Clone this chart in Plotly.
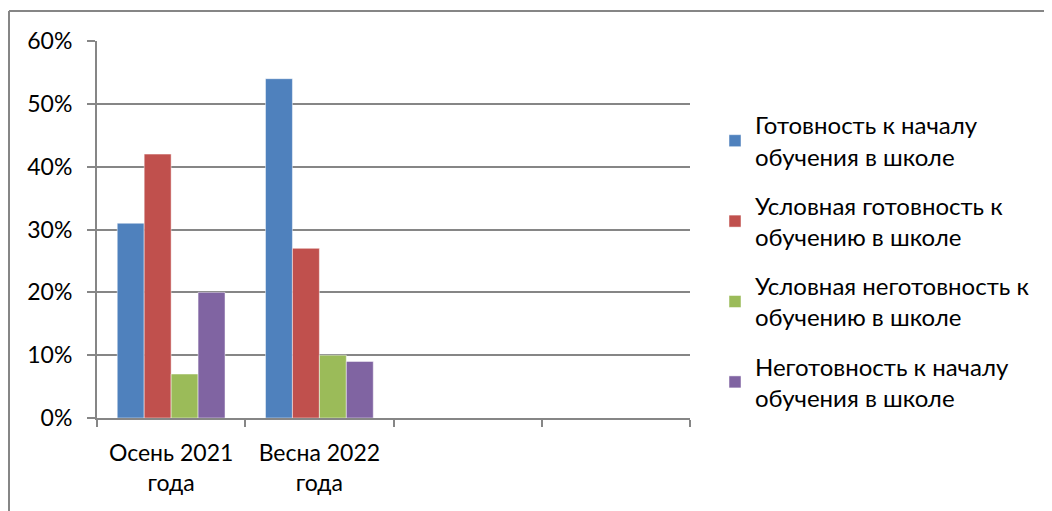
import plotly.graph_objects as go

categories = ["Осень 2021<br>года", "Весна 2022<br>года", " ", "  "]
series_names = [
    "Готовность к началу<br>обучения в школе",
    "Условная готовность к<br>обучению в школе",
    "Условная неготовность к<br>обучению в школе",
    "Неготовность к началу<br>обучения в школе",
]
values_ready = [0.31, 0.54, None, None]
values_cond_ready = [0.42, 0.27, None, None]
values_cond_unready = [0.07, 0.10, None, None]
values_unready = [0.20, 0.09, None, None]
colors = ["#4F81BD", "#C0504D", "#9BBB59", "#8064A2"]
y_ticks = [0, 0.1, 0.2, 0.3, 0.4, 0.5, 0.6]

OFF = 8  # page body margin
W, H = 1052 - OFF, 511 - OFF
L, R, T, B = 97 - OFF, 690 - OFF, 41 - OFF, 418 - OFF

fig = go.Figure()
for i, (name, vals) in enumerate(zip(series_names,
                                     [values_ready, values_cond_ready, values_cond_unready, values_unready])):
    fig.add_trace(go.Bar(
        x=categories, y=vals, name=name, legendgroup=f"g{i}",
        marker=dict(color=colors[i], line=dict(color="rgba(255,255,255,0.6)", width=0.8)),
    ))

pw, ph = R - L, B - T
fig.update_layout(
    width=W, height=H,
    margin=dict(l=L, r=W - R, t=T, b=H - B, pad=0),
    paper_bgcolor="white", plot_bgcolor="white",
    barmode="group", bargap=0.273, bargroupgap=0,
    font=dict(family="Lato, Carlito, sans-serif", size=22, color="#000000"),
    showlegend=True,
    legend=dict(x=(715 - OFF - L) / pw, y=(B - (103 - OFF)) / ph, xanchor="left", yanchor="top",
                traceorder="grouped", tracegroupgap=15,
                font=dict(size=24), itemwidth=30, bgcolor="rgba(0,0,0,0)"),
    xaxis=dict(type="category", categoryorder="array", categoryarray=categories,
               range=[-0.5, 3.5], showline=True, linecolor="#868686", linewidth=2,
               ticks="outside", tickson="boundaries", ticklen=7, tickcolor="#868686", tickwidth=2,
               showgrid=False, tickfont=dict(size=23), ticklabelstandoff=13),
    yaxis=dict(range=[0, 0.6], tickvals=y_ticks, tickformat=".0%",
               showline=True, linecolor="#868686", linewidth=2,
               ticks="outside", ticklen=8, tickcolor="#868686", tickwidth=2,
               showgrid=True, gridcolor="#868686", gridwidth=1.5, zeroline=False,
               tickfont=dict(size=23), ticklabelstandoff=10),
    shapes=[
        dict(type="line", xref="paper", yref="paper",
             x0=(9 - OFF - L) / pw, x1=(W - L) / pw, y0=(B - (11 - OFF)) / ph, y1=(B - (11 - OFF)) / ph,
             line=dict(color="#868686", width=2)),
        dict(type="line", xref="paper", yref="paper",
             x0=(9 - OFF - L) / pw, x1=(9 - OFF - L) / pw, y0=(B - (11 - OFF)) / ph, y1=(B - H) / ph,
             line=dict(color="#868686", width=2)),
    ],
)
fig.write_html("out.html")
